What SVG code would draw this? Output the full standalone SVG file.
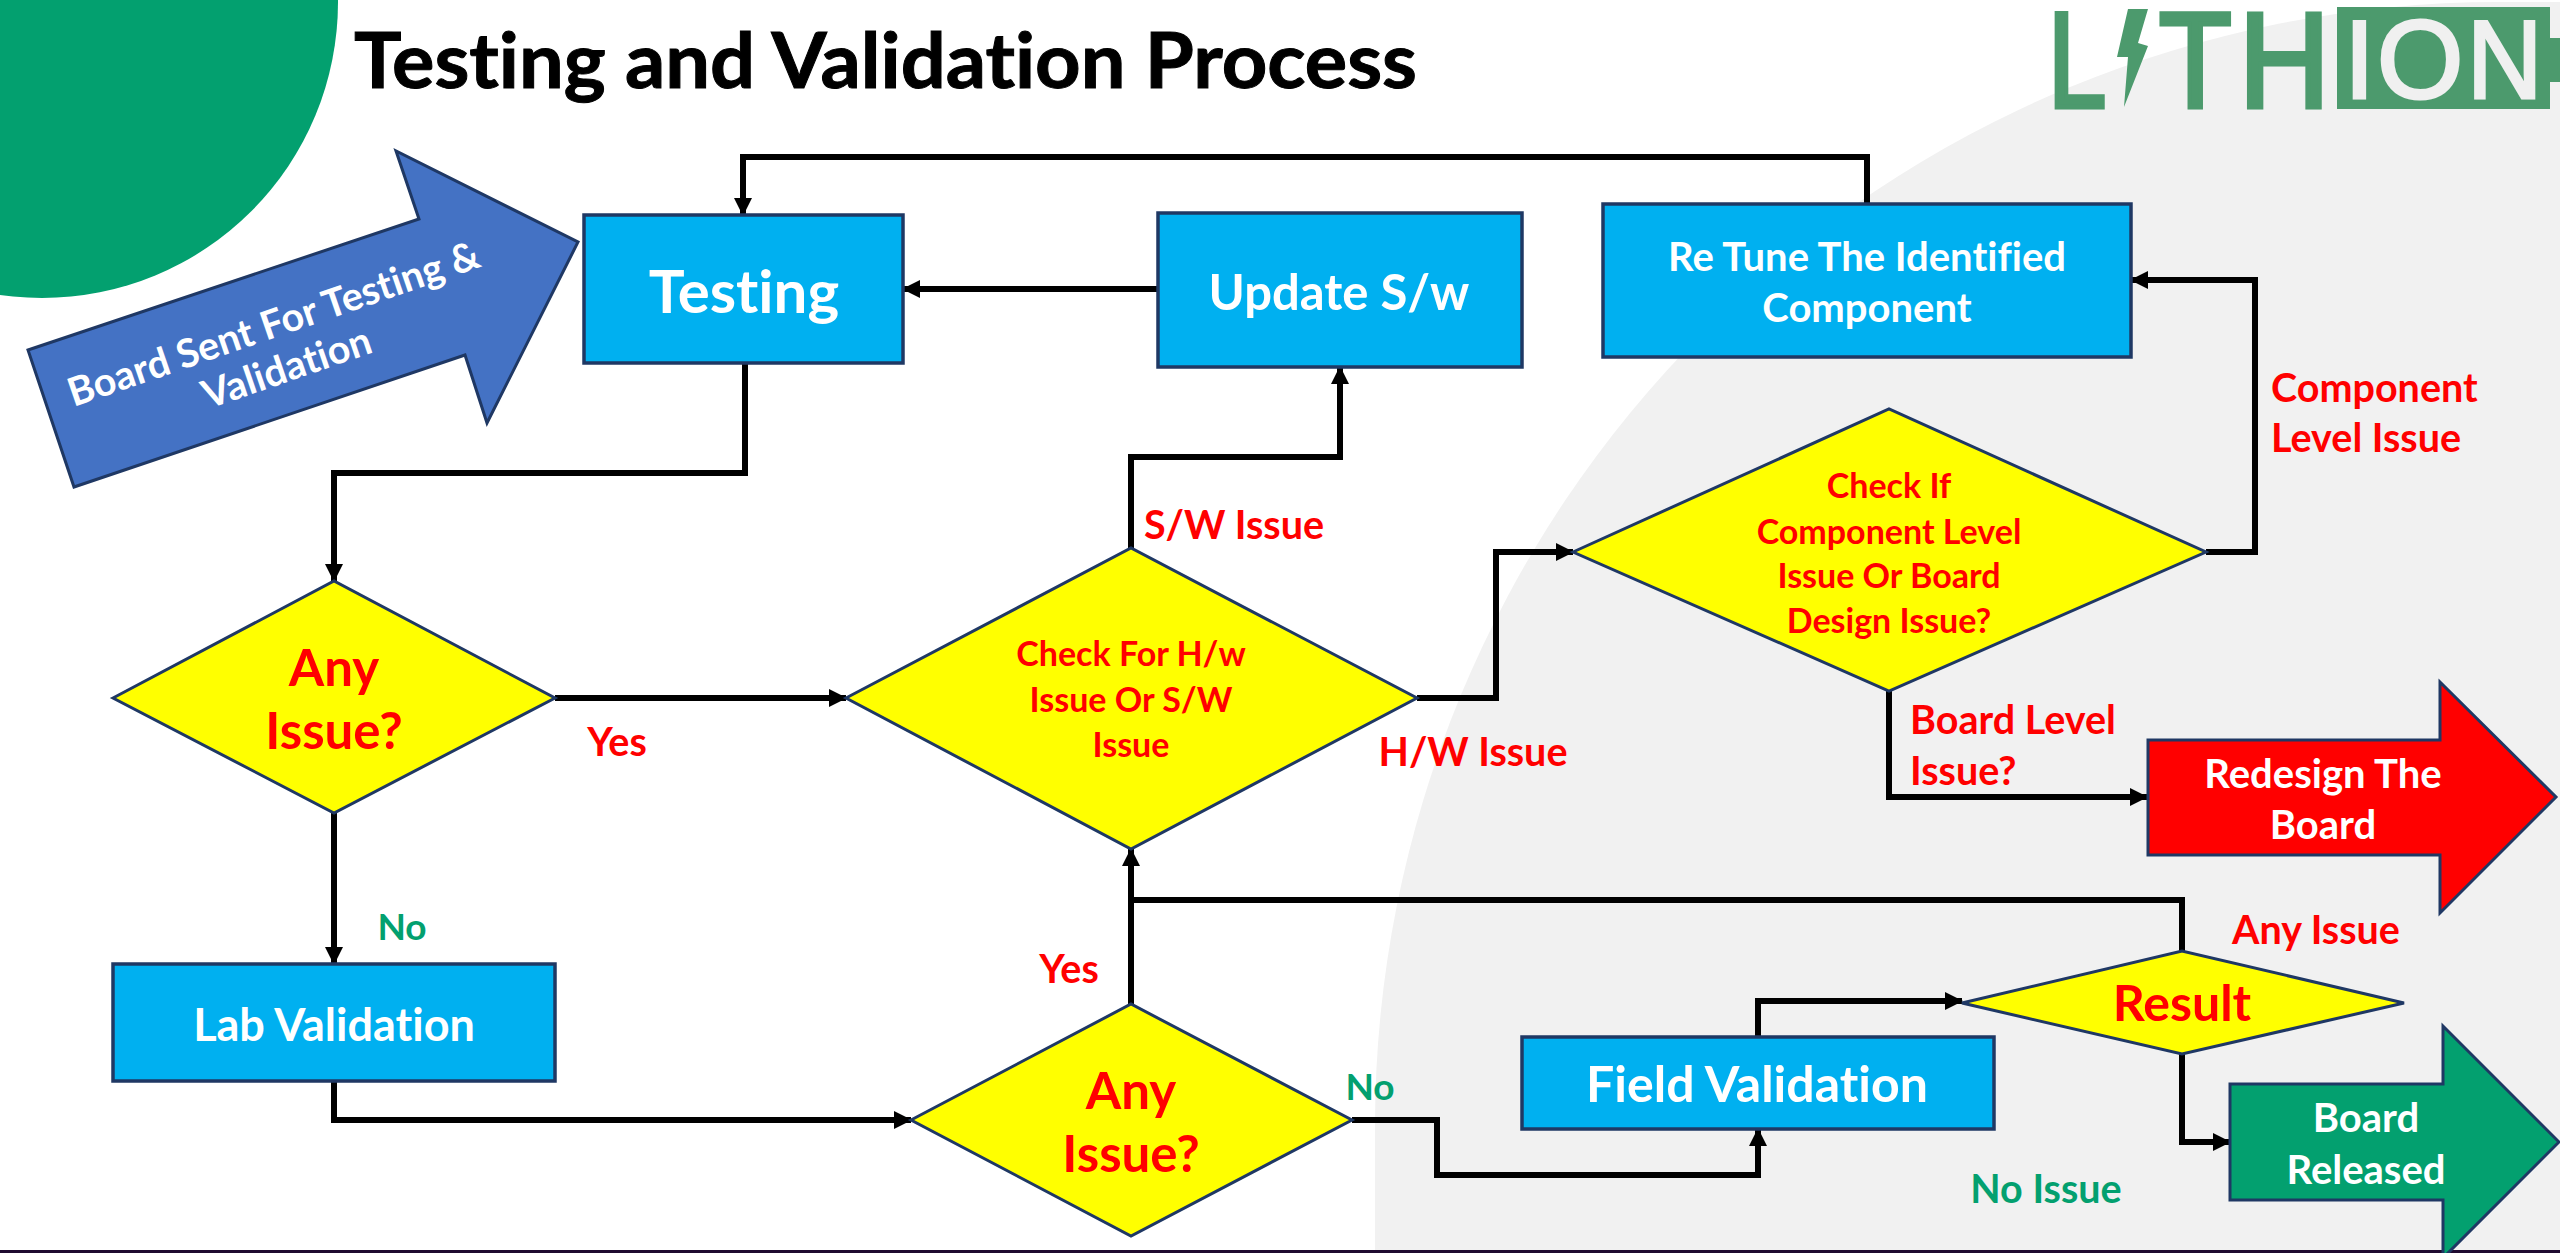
<svg xmlns="http://www.w3.org/2000/svg" width="2560" height="1253" viewBox="0 0 2560 1253">
<style>
text{font-family:"Lato","Carlito","Liberation Sans",sans-serif;font-weight:700;text-anchor:middle;dominant-baseline:central;font-variant-ligatures:none}
.box{fill:#00B0F0;stroke:#1F3864;stroke-width:3.500}
.dia{fill:#FFFF00;stroke:#1F3864;stroke-width:3}
.w{fill:#fff}.r{fill:#FF0000}.g{fill:#03A06F}
.c{fill:none;stroke:#000;stroke-width:6;stroke-linejoin:miter}
text.lg{fill:#4C9A6D;stroke:#4C9A6D;stroke-width:5;font-family:"Liberation Sans",sans-serif;font-weight:400;text-anchor:start;dominant-baseline:auto;font-size:135px}
text.lw{fill:#F0F0F0;stroke:#F0F0F0;stroke-width:3;font-family:"Liberation Sans",sans-serif;font-weight:400;text-anchor:start;dominant-baseline:auto;font-size:111px}
.f32{font-size:34px}.f39{font-size:39.500px}.f40{font-size:40px}.f51{font-size:51px}
</style>
<defs>
<marker id="a" markerUnits="userSpaceOnUse" markerWidth="18" markerHeight="18" refX="17" refY="9" orient="auto"><path d="M0 0L18 9L0 18Z" fill="#000"/></marker>
</defs>
<rect width="2560" height="1253" fill="#fff"/>
<path d="M1375 1253V1126A1124 1124 0 0 1 2499 2H2560V1253Z" fill="#F1F1F1"/>
<circle cx="42" cy="2" r="296" fill="#03A06F"/>
<rect x="0" y="1250" width="2560" height="3" fill="#1F0A30"/>
<text x="354" y="58" style="font-size:77px;text-anchor:start" textLength="1063" lengthAdjust="spacingAndGlyphs" fill="#000" stroke="#000" stroke-width="1">Testing and Validation Process</text>
<g id="logo">
<text class="lg" transform="translate(2048,106.500) scale(.776,1)">L</text>
<polygon points="2128,9 2148,9 2138,43 2148,46 2124,107 2128,57 2117,57" fill="#4C9A6D"/>
<text class="lg" transform="translate(2159,106.500) scale(.88,1)">T</text>
<text class="lg" transform="translate(2239,106.500) scale(.93,1)">H</text>
<path d="M2337 7H2550V38H2560V82H2550V109H2337Z" fill="#4C9A6D"/>
<text class="lw" transform="translate(2344,97.500)">I</text>
<text class="lw" transform="translate(2377,97.500)">O</text>
<text class="lw" transform="translate(2467,97.500) scale(.94,1)">N</text>
</g>
<g id="connectors">
<path class="c" d="M1867 204V157H743V215" marker-end="url(#a)"/>
<path class="c" d="M1158 289H903" marker-end="url(#a)"/>
<path class="c" d="M745 363V473H334V581" marker-end="url(#a)"/>
<path class="c" d="M555 698H846" marker-end="url(#a)"/>
<path class="c" d="M334 813V964" marker-end="url(#a)"/>
<path class="c" d="M334 1081V1120H911" marker-end="url(#a)"/>
<path class="c" d="M1131 1004V849" marker-end="url(#a)"/>
<path class="c" d="M2182 951V900H1131"/>
<path class="c" d="M1131 548V457H1340V367" marker-end="url(#a)"/>
<path class="c" d="M1417 698H1496V552H1573" marker-end="url(#a)"/>
<path class="c" d="M2206 552H2255V280H2131" marker-end="url(#a)"/>
<path class="c" d="M1889 691V797H2147" marker-end="url(#a)"/>
<path class="c" d="M1352 1120H1437V1175H1758V1129" marker-end="url(#a)"/>
<path class="c" d="M1758 1037V1001H1962" marker-end="url(#a)"/>
<path class="c" d="M2182 1054V1142H2230" marker-end="url(#a)"/>
</g>
<g id="board-sent">
<polygon points="28,350 419,219 396,151 578,242 487,423 465,355 74,487" fill="#4472C4" stroke="#1F3864" stroke-width="3"/>
<g transform="translate(273,322) rotate(-19)"><text class="w f39">Board Sent For Testing &amp;</text></g>
<g transform="translate(286,366) rotate(-19)"><text class="w f39">Validation</text></g>
</g>
<g id="testing"><rect class="box" x="584" y="215" width="319" height="148"/><text class="w" x="744" y="290" style="font-size:60px">Testing</text></g>
<g id="update"><rect class="box" x="1158" y="213" width="364" height="154"/><text class="w" x="1339" y="291" style="font-size:49px">Update S/w</text></g>
<g id="retune"><rect class="box" x="1603" y="204" width="528" height="153"/><text class="w f40" x="1867" y="256">Re Tune The Identified</text><text class="w f40" x="1867" y="307">Component</text></g>
<g id="lab"><rect class="box" x="113" y="964" width="442" height="117"/><text class="w" x="334" y="1024" style="font-size:45px">Lab Validation</text></g>
<g id="field"><rect class="box" x="1522" y="1037" width="472" height="92"/><text class="w" x="1757" y="1083" style="font-size:50px">Field Validation</text></g>
<g id="any1"><polygon class="dia" points="113,698 334,581 555,698 334,813"/><text class="r f51" x="334" y="666">Any</text><text class="r f51" x="334" y="729">Issue?</text></g>
<g id="check-hw"><polygon class="dia" points="846,698 1131,548 1417,698 1131,849"/><text class="r f32" x="1131" y="652">Check For H/w</text><text class="r f32" x="1131" y="698">Issue Or S/W</text><text class="r f32" x="1131" y="743">Issue</text></g>
<g id="check-if"><polygon class="dia" points="1573,552 1889,409 2206,552 1889,691"/><text class="r f32" x="1889" y="484">Check If</text><text class="r f32" x="1889" y="530">Component Level</text><text class="r f32" x="1889" y="574">Issue Or Board</text><text class="r f32" x="1889" y="619">Design Issue?</text></g>
<g id="any2"><polygon class="dia" points="911,1120 1131,1004 1352,1120 1131,1236"/><text class="r f51" x="1131" y="1089">Any</text><text class="r f51" x="1131" y="1152">Issue?</text></g>
<g id="result"><polygon class="dia" points="1962,1003 2182,951 2404,1003 2182,1054"/><text class="r" x="2182" y="1002" style="font-size:50px">Result</text></g>
<g id="redesign"><polygon points="2148,740 2440,740 2440,682 2556,797 2440,913 2440,855 2148,855" fill="#FF0000" stroke="#1F3864" stroke-width="3"/><text class="w f40" x="2323" y="773">Redesign The</text><text class="w f40" x="2323" y="824">Board</text></g>
<g id="released"><polygon points="2230,1084 2443,1084 2443,1026 2559,1142 2443,1258 2443,1200 2230,1200" fill="#03A06F" stroke="#1F3864" stroke-width="3"/><text class="w f40" x="2366" y="1117">Board</text><text class="w f40" x="2366" y="1169">Released</text></g>
<g id="labels">
<text class="r f39" x="1234" y="523">S/W Issue</text>
<text class="r f39" x="617" y="740">Yes</text>
<text class="g" x="402" y="925" style="font-size:37px">No</text>
<text class="r f39" x="1473" y="750">H/W Issue</text>
<text class="r f39" x="1069" y="967">Yes</text>
<text class="g" x="1370" y="1085" style="font-size:37px">No</text>
<text class="r f39" x="1910" y="718" style="text-anchor:start">Board Level</text>
<text class="r f39" x="1910" y="769" style="text-anchor:start">Issue?</text>
<text class="r f39" x="2316" y="928">Any Issue</text>
<text class="g f39" x="2046" y="1187">No Issue</text>
<text class="r f39" x="2271" y="386" style="text-anchor:start">Component</text>
<text class="r f39" x="2271" y="436" style="text-anchor:start">Level Issue</text>
</g>
</svg>
